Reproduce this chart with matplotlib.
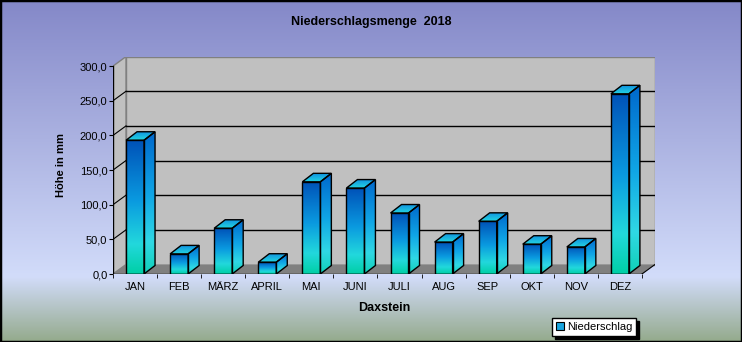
import numpy as np
import matplotlib.pyplot as plt
from matplotlib.patches import Polygon, Patch
from matplotlib.colors import LinearSegmentedColormap

plt.rcParams['font.family'] = ['Liberation Sans', 'DejaVu Sans']

# Niederschlag je Monat in mm
months = ['JAN', 'FEB', 'MÄRZ', 'APRIL', 'MAI', 'JUNI', 'JULI', 'AUG', 'SEP', 'OKT', 'NOV', 'DEZ']
rain = [193, 29, 66, 17, 133, 124, 88, 46, 76, 43, 39, 260]
yticks = [0, 50, 100, 150, 200, 250, 300]

W, H = 742, 342
fig = plt.figure(figsize=(W / 100, H / 100), dpi=100)

# background gradient of the whole chart area
bg = fig.add_axes([0, 0, 1, 1])
bg_cmap = LinearSegmentedColormap.from_list('bg', [
    (0.0, '#8488c8'), (0.81, '#d2dcfa'), (1.0, '#94aa8c')])
bg.imshow(np.linspace(0, 1, 256).reshape(-1, 1), cmap=bg_cmap, aspect='auto',
          extent=[0, 1, 1, 0])
bg.set_axis_off()
fig.patches.append(plt.Rectangle((0, 0), 1, 1, transform=fig.transFigure,
                                 fill=False, ec='black', lw=2.5))

# plot box in pixels
px_per_mm = 0.693
cat_px = 44.08
left_px, bottom_px = 113, 274
wall_dx_px, wall_dy_px = 13, 9.5
top_px = bottom_px - 300 * px_per_mm - wall_dy_px
right_px = left_px + 12 * cat_px + wall_dx_px

ax = fig.add_axes([left_px / W, (H - bottom_px) / H,
                   (right_px - left_px) / W, (bottom_px - top_px) / H])

wdx = wall_dx_px / cat_px
wdz = wall_dy_px / px_per_mm
x0, x1 = -0.5, len(months) - 0.5

# walls and floor
ax.add_patch(Polygon([(x0 + wdx, wdz), (x1 + wdx, wdz), (x1 + wdx, 300 + wdz),
                      (x0 + wdx, 300 + wdz)], fc='#c0c0c0', ec='#808080', lw=1, zorder=1))
ax.add_patch(Polygon([(x0, 0), (x0 + wdx, wdz), (x0 + wdx, 300 + wdz), (x0, 300)],
                     fc='#c0c0c0', ec='#808080', lw=1, zorder=1))
ax.add_patch(Polygon([(x0, 0), (x1, 0), (x1 + wdx, wdz), (x0 + wdx, wdz)],
                     fc='#808080', ec='none', zorder=1))
ax.plot([x1, x1 + wdx], [0, wdz], color='black', lw=0.8, zorder=2)

for v in yticks[1:-1]:
    ax.plot([x0 + wdx, x1 + wdx], [v + wdz, v + wdz], color='black', lw=1, zorder=2)
    ax.plot([x0, x0 + wdx], [v, v + wdz], color='black', lw=0.8, zorder=2)

# front axis lines
ax.plot([x0, x0], [0, 300], color='black', lw=1, zorder=6)
ax.plot([x0, x1], [0, 0], color='black', lw=1, zorder=6)

front_cmap = LinearSegmentedColormap.from_list('front', [
    (0.0, '#00cfa6'), (0.22, '#22d8dc'), (0.55, '#0a9ae0'), (1.0, '#0052b8')])
side_cmap = LinearSegmentedColormap.from_list('side', [
    (0.0, '#10d0b8'), (0.22, '#30d8e4'), (0.55, '#10a6e6'), (1.0, '#0068cc')])
top_cmap = LinearSegmentedColormap.from_list('top', [
    (0.0, '#24d4e0'), (1.0, '#1090e0')])

grad = np.linspace(0, 1, 128).reshape(-1, 1)


def shaded(poly, cmap, ext):
    patch = Polygon(poly, fc='none', ec='black', lw=1, zorder=5)
    ax.add_patch(patch)
    im = ax.imshow(grad, cmap=cmap, aspect='auto', origin='lower',
                   extent=ext, zorder=4, interpolation='bilinear')
    im.set_clip_path(patch)


bw = 18 / cat_px
bdx = 11 / cat_px
bdz = 8.5 / px_per_mm
for i, v in enumerate(rain):
    a, b = i - bw / 2, i + bw / 2
    shaded([(a, 0), (b, 0), (b, v), (a, v)], front_cmap, [a, b, 0, v])
    shaded([(b, 0), (b + bdx, bdz), (b + bdx, v + bdz), (b, v)], side_cmap,
           [b, b + bdx, 0, v + bdz])
    shaded([(a, v), (b, v), (b + bdx, v + bdz), (a + bdx, v + bdz)], top_cmap,
           [a, b + bdx, v, v + bdz])

ax.set_xlim(x0, x1 + wdx)
ax.set_ylim(0, 300 + wdz)
for s in ax.spines.values():
    s.set_visible(False)
ax.patch.set_visible(False)

ax.set_yticks(yticks)
ax.set_yticklabels([f'{t:.1f}'.replace('.', ',') for t in yticks])
ax.set_xticks(range(len(months)))
ax.set_xticklabels(months)
ax.set_xticks(np.arange(x0, x1 + 0.01, 1), minor=True)
ax.tick_params(axis='x', which='major', length=0, pad=6, labelsize=8)
ax.tick_params(axis='x', which='minor', length=3, direction='out', color='black')
ax.tick_params(axis='y', length=3, direction='out', color='black', labelsize=8, pad=1)

ax.set_xlabel('Daxstein', fontsize=9, fontweight='bold', labelpad=7)
ax.set_ylabel('Höhe in mm', fontsize=8, fontweight='bold', labelpad=10)
fig.text(371 / W, 1 - 22 / H, 'Niederschlagsmenge  2018', ha='center', va='center',
         fontsize=9, fontweight='bold')

handle = Patch(facecolor='#1aa6e0', edgecolor='black', lw=0.8)
fig.legend([handle], ['Niederschlag'], loc='center', bbox_to_anchor=(594 / W, 1 - 327 / H),
           fontsize=8, frameon=True, fancybox=False, edgecolor='black', framealpha=1,
           handlelength=0.7, handleheight=0.7, handletextpad=0.3, borderpad=0.35,
           shadow={'color': 'black', 'alpha': 1})

fig.savefig('out.png', dpi=100)
